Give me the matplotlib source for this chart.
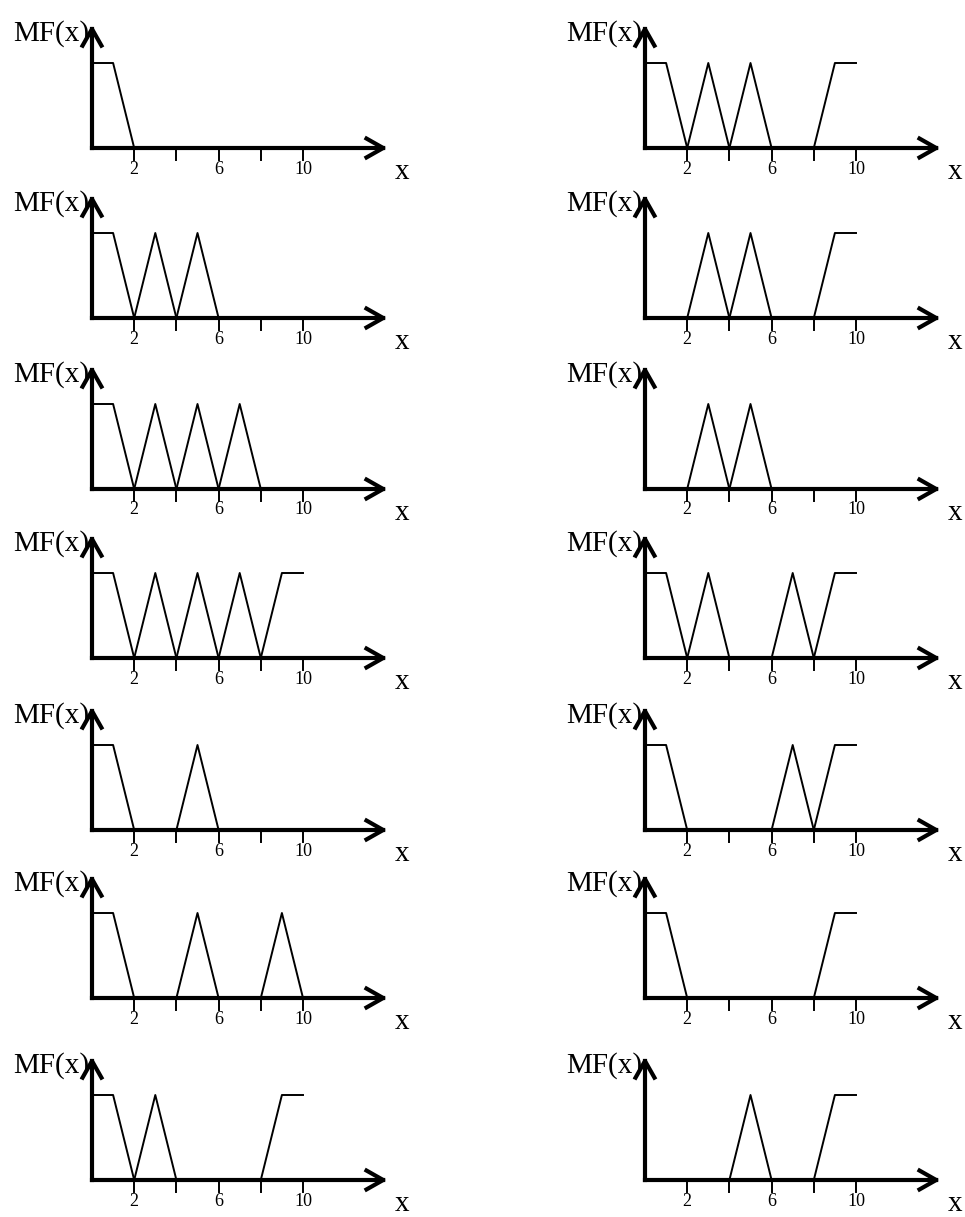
import matplotlib.pyplot as plt
from matplotlib.patches import FancyArrowPatch

# membership function pieces on the universe x in [0, 10]
LEFT_SHOULDER_X = [0, 1, 2]
LEFT_SHOULDER_Y = [1, 1, 0]
RIGHT_SHOULDER_X = [8, 9, 10]
RIGHT_SHOULDER_Y = [0, 1, 1]
TRIANGLE_OFFSETS = [-1, 0, 1]
TRIANGLE_Y = [0, 1, 0]

TICKS = [2, 4, 6, 8, 10]
TICK_LABELS = ["2", "", "6", "", "10"]

# which fuzzy sets survive in each panel, top to bottom
LEFT_COL_HAS_LEFT = [True, True, True, True, True, True, True]
LEFT_COL_CENTERS = [[], [3, 5], [3, 5, 7], [3, 5, 7], [5], [5, 9], [3]]
LEFT_COL_HAS_RIGHT = [False, False, False, True, False, False, True]

RIGHT_COL_HAS_LEFT = [True, False, False, True, True, True, False]
RIGHT_COL_CENTERS = [[3, 5], [3, 5], [3, 5], [3, 7], [7], [], [5]]
RIGHT_COL_HAS_RIGHT = [True, True, False, True, True, True, True]

# layout in pixels
W, H = 965, 1217
UNIT_X = 21.1
UNIT_Y = 85.0
COL_ORIGINS = [92, 645]
ROW_BASELINES = [148, 318, 489, 658, 830, 998, 1180]

FONT = ["Liberation Serif", "DejaVu Serif"]


def draw_panel(fig, origin_x, baseline_y, has_left, centers, has_right):
    x0, x1 = -4.6, 15.6
    y0, y1 = -0.5, 1.6
    ax = fig.add_axes([
        (origin_x + x0 * UNIT_X) / W,
        (H - baseline_y + y0 * UNIT_Y) / H,
        (x1 - x0) * UNIT_X / W,
        (y1 - y0) * UNIT_Y / H,
    ])
    ax.set_xlim(x0, x1)
    ax.set_ylim(y0, y1)
    ax.axis("off")

    mf = dict(color="black", lw=1.4, clip_on=False)
    if has_left:
        ax.plot(LEFT_SHOULDER_X, LEFT_SHOULDER_Y, **mf)
    for c in centers:
        ax.plot([c + d for d in TRIANGLE_OFFSETS], TRIANGLE_Y, **mf)
    if has_right:
        ax.plot(RIGHT_SHOULDER_X, RIGHT_SHOULDER_Y, **mf)

    for t, lab in zip(TICKS, TICK_LABELS):
        ax.plot([t, t], [0, -0.14], color="black", lw=1.4, clip_on=False)
        if lab:
            ax.text(t, -0.30, lab, ha="center", va="baseline",
                    fontsize=13, family=FONT)

    style = "->,head_length=0.6,head_width=0.34"
    for end in [(14.0, 0), (0, 1.45)]:
        ax.add_patch(FancyArrowPatch((0, 0), end, arrowstyle=style,
                                     mutation_scale=20, lw=3, color="black",
                                     shrinkA=0, shrinkB=0, capstyle="projecting",
                                     clip_on=False))

    ax.text(-0.12, 1.26, "MF(x)", ha="right", va="baseline",
            fontsize=21, family=FONT)
    ax.text(14.7, -0.36, "x", ha="center", va="baseline",
            fontsize=21, family=FONT)


fig = plt.figure(figsize=(W / 100, H / 100), dpi=100)
columns = [
    (LEFT_COL_HAS_LEFT, LEFT_COL_CENTERS, LEFT_COL_HAS_RIGHT),
    (RIGHT_COL_HAS_LEFT, RIGHT_COL_CENTERS, RIGHT_COL_HAS_RIGHT),
]
for origin_x, (lefts, centers, rights) in zip(COL_ORIGINS, columns):
    for i, baseline_y in enumerate(ROW_BASELINES):
        draw_panel(fig, origin_x, baseline_y, lefts[i], centers[i], rights[i])

fig.savefig("out.png", dpi=100, facecolor="white")
